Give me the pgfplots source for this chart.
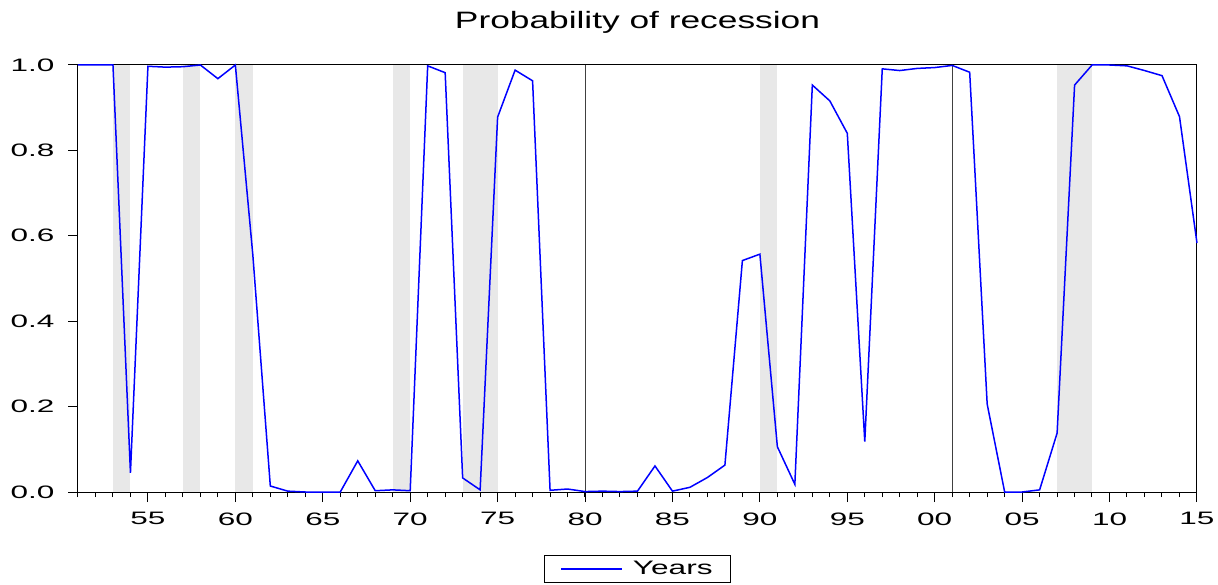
\documentclass[border=0pt]{standalone}
\usepackage{fontspec}
\setmainfont{Liberation Sans}
\newfontfamily\tickfont{Liberation Sans}[FakeStretch=1.75]
\newfontfamily\titlefont{Liberation Sans}[FakeStretch=1.49]
\newfontfamily\legfont{Liberation Sans}[FakeStretch=1.62]
\usepackage{pgfplots}
\usepackage{pgfplotstable}
\pgfplotsset{compat=1.18}
\definecolor{bandgray}{RGB}{232,232,232}

\pgfplotstableread{
year p
1951 1.000
1952 1.000
1953 1.000
1954 0.045
1955 0.997
1956 0.995
1957 0.996
1958 1.000
1959 0.968
1960 1.000
1961 0.555
1962 0.014
1963 0.002
1964 0.000
1965 0.000
1966 0.000
1967 0.073
1968 0.003
1969 0.005
1970 0.003
1971 0.998
1972 0.982
1973 0.033
1974 0.005
1975 0.878
1976 0.988
1977 0.963
1978 0.004
1979 0.007
1980 0.001
1981 0.002
1982 0.001
1983 0.002
1984 0.061
1985 0.002
1986 0.011
1987 0.034
1988 0.063
1989 0.542
1990 0.557
1991 0.106
1992 0.018
1993 0.953
1994 0.916
1995 0.840
1996 0.118
1997 0.991
1998 0.987
1999 0.992
2000 0.994
2001 0.999
2002 0.983
2003 0.206
2004 0.000
2005 0.000
2006 0.005
2007 0.138
2008 0.953
2009 1.000
2010 1.000
2011 0.998
2012 0.987
2013 0.975
2014 0.879
2015 0.583
}\probdata

\begin{document}
\begin{tikzpicture}
\begin{axis}[
  name=main,
  scale only axis, width=1119pt, height=427pt,
  xmin=1951, xmax=2015, ymin=0, ymax=1,
  clip=false,
  axis line style={line width=1pt},
  tick align=outside,
  xtick pos=bottom, ytick pos=left,
  xtick={1955,1960,...,2015},
  xticklabels={55,60,65,70,75,80,85,90,95,00,05,10,15},
  minor xtick={1951,...,2015},
  ytick={0,0.2,0.4,0.6,0.8,1.0},
  y tick label style={xshift=-10pt, /pgf/number format/fixed, /pgf/number format/fixed zerofill, /pgf/number format/precision=1, /pgf/number format/assume math mode=true},
  x tick label style={yshift=-7pt},
  tick label style={font=\fontsize{18}{20}\selectfont\tickfont},
  major tick length=10pt, minor tick length=5pt,
  tick style={black, line width=1pt},
  title={Probability of recession},
  title style={font=\fontsize{23.7}{26}\selectfont\titlefont, at={(0.5,1)}, anchor=base, yshift=30pt},
  legend style={at={(0.5,-0.1475)}, anchor=north, draw=black, line width=1pt,
    font=\fontsize{19.5}{22}\selectfont\legfont, inner xsep=16pt, inner ysep=4pt, column sep=8pt},
  legend image code/.code={\draw[#1] (0pt,0pt) -- (61pt,0pt);},
]
\addplot[draw=none, fill=bandgray, forget plot] coordinates {(1953,1) (1954,1)} \closedcycle;
\addplot[draw=none, fill=bandgray, forget plot] coordinates {(1957,1) (1958,1)} \closedcycle;
\addplot[draw=none, fill=bandgray, forget plot] coordinates {(1960,1) (1961,1)} \closedcycle;
\addplot[draw=none, fill=bandgray, forget plot] coordinates {(1969,1) (1970,1)} \closedcycle;
\addplot[draw=none, fill=bandgray, forget plot] coordinates {(1973,1) (1975,1)} \closedcycle;
\addplot[draw=none, fill=bandgray, forget plot] coordinates {(1990,1) (1991,1)} \closedcycle;
\addplot[draw=none, fill=bandgray, forget plot] coordinates {(2007,1) (2009,1)} \closedcycle;
\addplot[black!75, line width=1pt, forget plot] coordinates {(1980,0) (1980,1)};
\addplot[black!75, line width=1pt, forget plot] coordinates {(2001,0) (2001,1)};
\addplot[blue, line width=1.5pt] table[x=year, y=p] {\probdata};
\addlegendentry{Years}
\end{axis}
\pgfresetboundingbox
\path (main.south west) ++(-78pt,-92pt) rectangle ++(1218pt,584pt);
\end{tikzpicture}
\end{document}
